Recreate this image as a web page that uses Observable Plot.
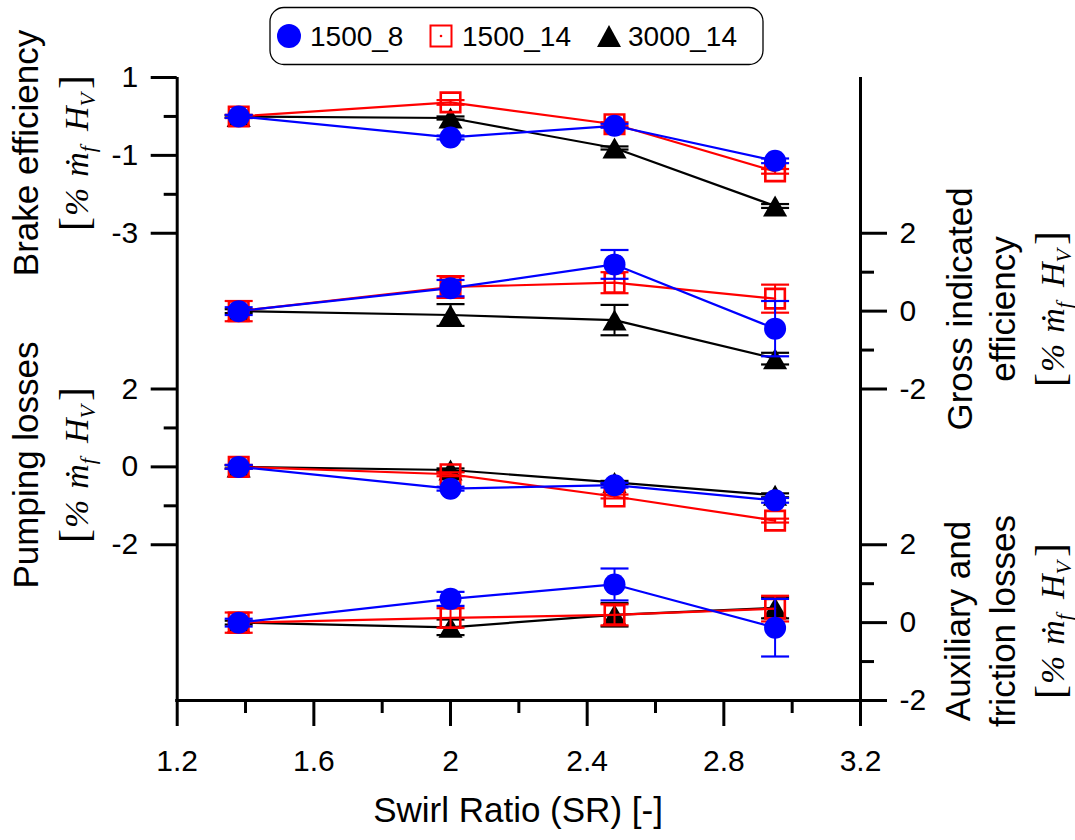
<!DOCTYPE html>
<html><head><meta charset="utf-8">
<script src="https://cdn.jsdelivr.net/npm/d3@7"></script>
<script src="https://cdn.jsdelivr.net/npm/@observablehq/plot@0.6"></script>
<style>body{margin:0;background:#fff;} #chart{width:1075px;height:840px;}</style>
</head><body><div id="chart"></div>
<script>
// ---------- data ----------
const swirlRatio = [1.38, 2.0, 2.48, 2.95];
const seriesNames = ["1500_8", "1500_14", "3000_14"];

const brake_1500_8  = [0, -0.54, -0.24, -1.14];
const brake_1500_14 = [0, 0.36, -0.20, -1.41];
const brake_3000_14 = [0, -0.04, -0.81, -2.30];
const brakeErr_1500_8  = [0.04, 0.05, 0.05, 0.06];
const brakeErr_1500_14 = [0.04, 0.06, 0.05, 0.06];
const brakeErr_3000_14 = [0.03, 0.04, 0.04, 0.05];

const gross_1500_8  = [0, 0.59, 1.20, -0.45];
const gross_1500_14 = [0, 0.62, 0.73, 0.32];
const gross_3000_14 = [0, -0.10, -0.23, -1.22];
const grossErr_1500_8  = [0.10, 0.21, 0.37, 0.71];
const grossErr_1500_14 = [0.26, 0.28, 0.27, 0.36];
const grossErr_3000_14 = [0.05, 0.28, 0.39, 0.15];

const pump_1500_8  = [0, -0.56, -0.47, -0.86];
const pump_1500_14 = [0, -0.19, -0.76, -1.38];
const pump_3000_14 = [0, -0.08, -0.40, -0.73];
const pumpErr_1500_8  = [0.05, 0.05, 0.06, 0.06];
const pumpErr_1500_14 = [0.05, 0.05, 0.05, 0.05];
const pumpErr_3000_14 = [0.04, 0.04, 0.04, 0.05];

const aux_1500_8  = [0, 0.61, 0.98, -0.13];
const aux_1500_14 = [0, 0.12, 0.20, 0.36];
const aux_3000_14 = [0, -0.12, 0.20, 0.38];
const auxErr_1500_8  = [0.10, 0.18, 0.41, 0.74];
const auxErr_1500_14 = [0.26, 0.25, 0.27, 0.33];
const auxErr_3000_14 = [0.05, 0.20, 0.30, 0.27];

const xTicks = [1.2, 1.6, 2.0, 2.4, 2.8, 3.2];
const xTickLabels = ["1.2", "1.6", "2", "2.4", "2.8", "3.2"];
const xMinorTicks = [1.4, 1.8, 2.2, 2.6, 3.0];
const brakeTicks = [1, -1, -3], brakeMinor = [0, -2];
const grossTicks = [2, 0, -2], grossMinor = [1, -1];
const pumpTicks = [2, 0, -2], pumpMinor = [1, -1];
const auxTicks = [2, 0, -2], auxMinor = [1, -1];

// ---------- layout ----------
const panels = [
  {key: "brake", offset: 0,   side: "left",  ticks: brakeTicks, minor: brakeMinor,
   values: [brake_1500_8, brake_1500_14, brake_3000_14], errs: [brakeErr_1500_8, brakeErr_1500_14, brakeErr_3000_14]},
  {key: "gross", offset: -5,  side: "right", ticks: grossTicks, minor: grossMinor,
   values: [gross_1500_8, gross_1500_14, gross_3000_14], errs: [grossErr_1500_8, grossErr_1500_14, grossErr_3000_14]},
  {key: "pump",  offset: -9,  side: "left",  ticks: pumpTicks, minor: pumpMinor,
   values: [pump_1500_8, pump_1500_14, pump_3000_14], errs: [pumpErr_1500_8, pumpErr_1500_14, pumpErr_3000_14]},
  {key: "aux",   offset: -13, side: "right", ticks: auxTicks, minor: auxMinor,
   values: [aux_1500_8, aux_1500_14, aux_3000_14], errs: [auxErr_1500_8, auxErr_1500_14, auxErr_3000_14]}
];
const colors = {"1500_8": "#0000ff", "1500_14": "#ff0000", "3000_14": "#000000"};

const rows = [];
panels.forEach(p => {
  seriesNames.forEach((s, si) => {
    swirlRatio.forEach((x, i) => {
      const v = p.values[si][i] + p.offset, e = p.errs[si][i];
      rows.push({panel: p.key, series: s, x, y: v, lo: v - e, hi: v + e});
    });
  });
});

const leftMajor = [], leftMinor = [], rightMajor = [], rightMinor = [];
const tickLabel = {left: new Map(), right: new Map()};
panels.forEach(p => {
  const maj = p.side === "left" ? leftMajor : rightMajor;
  const min = p.side === "left" ? leftMinor : rightMinor;
  p.ticks.forEach(t => { maj.push(t + p.offset); tickLabel[p.side].set(t + p.offset, String(t)); });
  p.minor.forEach(t => min.push(t + p.offset));
});
const xLabelMap = new Map(xTicks.map((t, i) => [t, xTickLabels[i]]));

// custom symbols
const sym = r => Math.sqrt(r / Math.PI);
const capSym = {draw(ctx, size) { const r = sym(size); ctx.moveTo(-r, 0); ctx.lineTo(r, 0); }};
const sqSym = {draw(ctx, size) { const r = sym(size); ctx.moveTo(-r, -r); ctx.lineTo(r, -r); ctx.lineTo(r, r); ctx.lineTo(-r, r); ctx.closePath(); }};
const triSym = {draw(ctx, size) { const r = sym(size); ctx.moveTo(0, -r); ctx.lineTo(1.15 * r, r); ctx.lineTo(-1.15 * r, r); ctx.closePath(); }};

const seriesMarks = [];
["3000_14", "1500_14", "1500_8"].forEach(s => {
  const d = rows.filter(r => r.series === s);
  const c = colors[s];
  seriesMarks.push(Plot.line(d, {x: "x", y: "y", z: "panel", stroke: c, strokeWidth: 2.2}));
  seriesMarks.push(Plot.ruleX(d, {x: "x", y1: "lo", y2: "hi", stroke: c, strokeWidth: 2}));
  seriesMarks.push(Plot.dot(d, {x: "x", y: "lo", symbol: capSym, r: 14, stroke: c, fill: "none", strokeWidth: 2.2}));
  seriesMarks.push(Plot.dot(d, {x: "x", y: "hi", symbol: capSym, r: 14, stroke: c, fill: "none", strokeWidth: 2.2}));
  if (s === "1500_8") seriesMarks.push(Plot.dot(d, {x: "x", y: "y", r: 11, fill: c, stroke: "none"}));
  if (s === "1500_14") seriesMarks.push(Plot.dot(d, {x: "x", y: "y", symbol: sqSym, r: 9.75, fill: "none", stroke: c, strokeWidth: 2.6}));
  if (s === "3000_14") seriesMarks.push(Plot.dot(d, {x: "x", y: "y", symbol: triSym, r: 10.5, fill: c, stroke: "none"}));
});

const plot = Plot.plot({
  width: 1075, height: 840,
  marginLeft: 176.7, marginRight: 215, marginTop: 77, marginBottom: 140,
  style: {background: "white", color: "black", fontSize: "30px", fontFamily: "'Liberation Sans', Arial, sans-serif"},
  x: {domain: [1.2, 3.2]},
  y: {domain: [-15, 1]},
  marks: [
    Plot.axisY({anchor: "left", ticks: leftMajor, tickFormat: d => tickLabel.left.get(d), tickSize: 26, tickPadding: 13, strokeWidth: 3, label: null}),
    Plot.axisY({anchor: "left", ticks: leftMinor, tickFormat: () => "", tickSize: 13, strokeWidth: 3, label: null}),
    Plot.axisY({anchor: "right", ticks: rightMajor, tickFormat: d => tickLabel.right.get(d), tickSize: 26, tickPadding: 13, strokeWidth: 3, label: null}),
    Plot.axisY({anchor: "right", ticks: rightMinor, tickFormat: () => "", tickSize: 13, strokeWidth: 3, label: null}),
    Plot.axisX({anchor: "bottom", ticks: xTicks, tickFormat: d => xLabelMap.get(d), tickSize: 26, tickPadding: 23, strokeWidth: 3, label: null}),
    Plot.axisX({anchor: "bottom", ticks: xMinorTicks, tickFormat: () => "", tickSize: 13, strokeWidth: 3, label: null}),
    Plot.ruleX([1.2, 3.2], {y1: -15, y2: 1, strokeWidth: 3}),
    Plot.ruleY([-15], {strokeWidth: 3, strokeLinecap: "square"}),
    ...seriesMarks
  ]
});
document.getElementById("chart").appendChild(plot);

// ---------- titles & legend ----------
const svg = d3.select(plot);
const sans = "'Liberation Sans', Arial, sans-serif";
const serif = "'Liberation Serif', 'DejaVu Serif', serif";
function rotText(x, y, str) {
  svg.append("text").attr("transform", `translate(${x},${y}) rotate(-90)`)
    .attr("text-anchor", "middle").style("font-family", sans).style("font-size", "35px")
    .attr("fill", "black").text(str);
}
function mathLabel(x, y) {
  const t = svg.append("text").attr("transform", `translate(${x},${y}) rotate(-90)`)
    .attr("text-anchor", "middle").style("font-family", serif).style("font-size", "34px").attr("fill", "black");
  t.append("tspan").text("[").style("font-size", "42px");
  t.append("tspan").text("%").style("font-style", "italic").attr("dx", 1);
  t.append("tspan").text("ṁ").style("font-style", "italic").attr("dx", 11);
  t.append("tspan").text("f").style("font-style", "italic").style("font-size", "22px").attr("dy", 7);
  t.append("tspan").text("H").style("font-style", "italic").attr("dx", 15).attr("dy", -7);
  t.append("tspan").text("V").style("font-style", "italic").style("font-size", "22px").attr("dy", 7);
  t.append("tspan").text("]").style("font-size", "42px").attr("dx", 4).attr("dy", -7);
}
rotText(38, 153, "Brake efficiency");
mathLabel(88, 153);
rotText(38, 465, "Pumping losses");
mathLabel(88, 465);
rotText(972, 309, "Gross indicated");
rotText(1015, 309, "efficiency");
mathLabel(1064, 309);
rotText(970, 621, "Auxiliary and");
rotText(1015, 621, "friction losses");
mathLabel(1064, 621);

svg.append("text").attr("x", 518).attr("y", 822).attr("text-anchor", "middle")
  .style("font-family", sans).style("font-size", "35px").attr("fill", "black").text("Swirl Ratio (SR) [-]");

// legend
const lg = svg.append("g");
lg.append("rect").attr("x", 270).attr("y", 7.5).attr("width", 493).attr("height", 57).attr("rx", 14)
  .attr("fill", "white").attr("stroke", "black").attr("stroke-width", 1.3);
const legendItems = [
  {name: seriesNames[0], sx: 289, tx: 310},
  {name: seriesNames[1], sx: 441, tx: 462},
  {name: seriesNames[2], sx: 609, tx: 628}
];
legendItems.forEach(it => {
  const c = colors[it.name];
  if (it.name === "1500_8") lg.append("circle").attr("cx", it.sx).attr("cy", 36).attr("r", 12).attr("fill", c);
  if (it.name === "1500_14") {
    lg.append("rect").attr("x", it.sx - 10.5).attr("y", 25.5).attr("width", 21).attr("height", 21).attr("fill", "none").attr("stroke", c).attr("stroke-width", 2);
    lg.append("circle").attr("cx", it.sx).attr("cy", 36).attr("r", 1.3).attr("fill", c);
  }
  if (it.name === "3000_14") lg.append("path").attr("d", `M${it.sx},${25}L${it.sx + 12},${47}L${it.sx - 12},${47}Z`).attr("fill", c);
  lg.append("text").attr("x", it.tx).attr("y", 46).attr("text-anchor", "start").style("font-family", sans).style("font-size", "28px").attr("fill", "black").text(it.name);
});
</script>
</body></html>
